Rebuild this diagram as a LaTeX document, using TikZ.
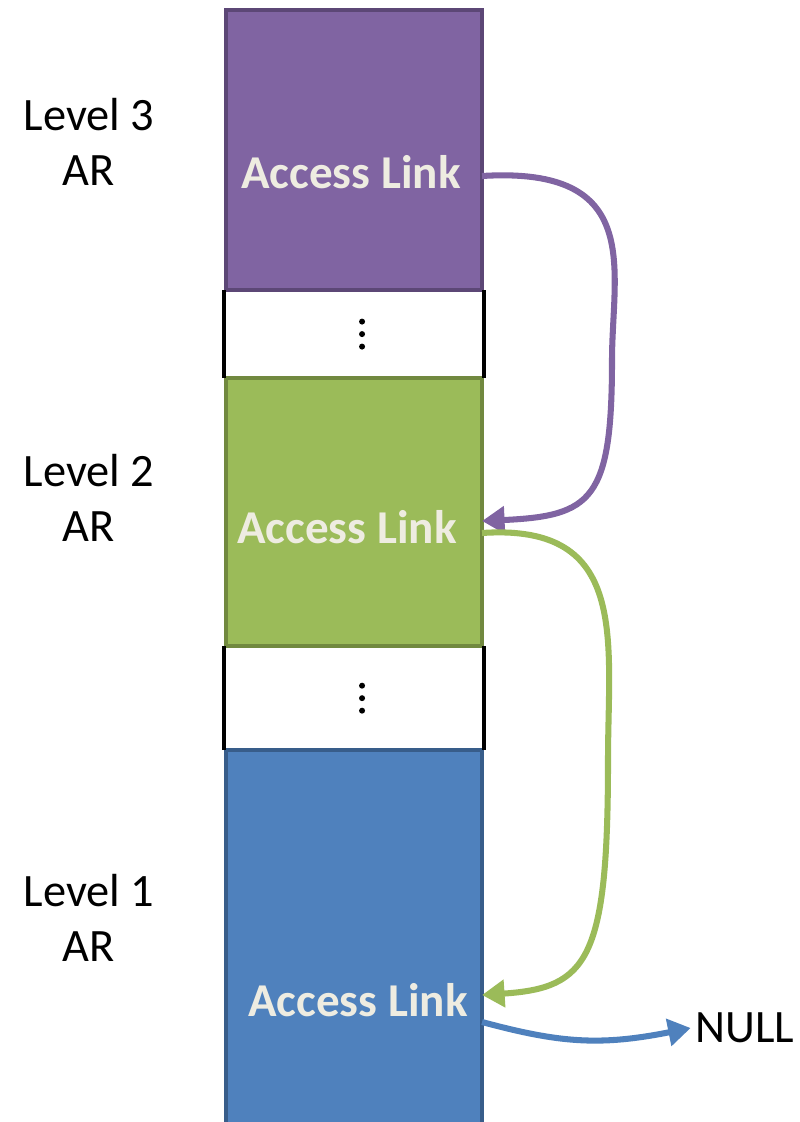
\documentclass[tikz,border=0pt]{standalone}
\usepackage{fontspec}
\setmainfont{Carlito}
\usetikzlibrary{arrows.meta,positioning}
\definecolor{arpurple}{HTML}{8064A2}
\definecolor{arpurpleD}{HTML}{5C4776}
\definecolor{argreen}{HTML}{9BBB59}
\definecolor{argreenD}{HTML}{71893F}
\definecolor{arblue}{HTML}{4F81BD}
\definecolor{arblueD}{HTML}{385D8A}
\definecolor{linktext}{HTML}{EEECE1}

\begin{document}
\begin{tikzpicture}[
  x=0.025cm, y=-0.025cm,
  font=\fontsize{33}{39}\selectfont,
  frame/.style={minimum width=6.4cm, inner sep=0pt, outer sep=0pt, line width=2.8pt},
  gap/.style={minimum width=6.5cm, inner sep=0pt, outer sep=0pt},
  lnk/.style={text=linktext, font=\fontsize{33.5}{39}\selectfont\bfseries},
  lvl/.style={align=center},
  link/.style={-{Triangle[length=16pt, width=19pt]}, line width=4.3pt}]
  \useasboundingbox (0,0) rectangle (800,1122);

  % stack of activation records
  \node[frame, draw=arpurpleD, fill=arpurple, minimum height=7.0cm, anchor=north west] (ar3) at (226,10) {};
  \node[gap, minimum height=2.2cm, below=0pt of ar3] (gap1) {};
  \node[frame, draw=argreenD, fill=argreen, minimum height=6.7cm, below=0pt of gap1] (ar2) {};
  \node[gap, minimum height=2.6cm, below=0pt of ar2] (gap2) {};
  \node[frame, draw=arblueD, fill=arblue, minimum height=9.6cm, below=0pt of gap2] (ar1) {};

  \foreach \g in {gap1,gap2} {
    \draw[line width=3pt] (\g.north west) -- (\g.south west);
    \draw[line width=3pt] (\g.north east) -- (\g.south east);
    \foreach \d in {-12.5,0,12.5}
      \fill ([xshift=5.7pt]\g.center) ++(0,\d) circle (3);
  }

  \node[lnk] (lnk3) at (351,172) {Access Link};
  \node[lnk] (lnk2) at (347,527) {Access Link};
  \node[lnk] (lnk1) at (358,1000) {Access Link};

  \node[lvl] (lv3) at (89,142) {Level 3\\AR};
  \node[lvl] (lv2) at (89,498) {Level 2\\AR};
  \node[lvl] (lv1) at (89,918) {Level 1\\AR};
  \node (null) at (745,1028) {NULL};

  \coordinate (out3) at (ar3.east |- 0,176);
  \coordinate (in2) at (ar2.east |- 0,521);
  \coordinate (out2) at (ar2.east |- 0,533);
  \coordinate (in1) at (ar1.east |- 0,995);
  \coordinate (out1) at (ar1.east |- 0,1022);

  % access links
  \draw[link, arpurple] (out3) .. controls (645,166) and (612,270) .. (612,360)
    .. controls (612,500) and (592,516) .. (in2);
  \draw[link, argreen] (out2) .. controls (630,523) and (608,640) .. (608,760)
    .. controls (608,960) and (588,988) .. (in1);
  \draw[link, arblue] (out1) .. controls (560,1043) and (600,1046) .. (null.west);
\end{tikzpicture}
\end{document}
